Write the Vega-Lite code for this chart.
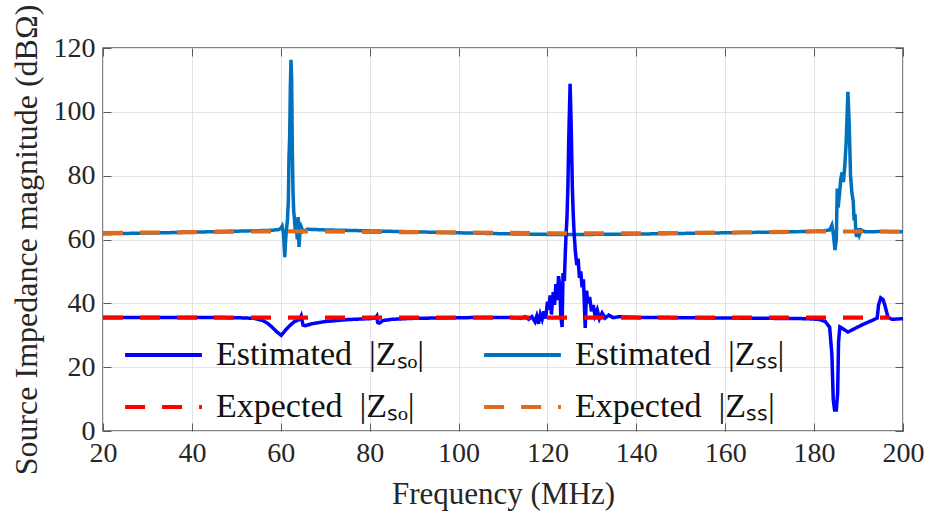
{
  "$schema": "https://vega.github.io/schema/vega-lite/v6.json",
  "width": 800,
  "height": 383,
  "autosize": {"type": "none"},
  "padding": {"left": 103, "top": 48, "right": 27, "bottom": 85},
  "background": "white",
  "config": {
    "view": {"stroke": "#5a5a5a", "strokeWidth": 1.5},
    "font": "Liberation Serif",
    "axis": {
      "domain": false,
      "gridColor": "#e3e3e3",
      "gridWidth": 1,
      "tickColor": "#5a5a5a",
      "tickSize": -8,
      "tickWidth": 1,
      "labelFont": "Liberation Serif",
      "labelFontSize": 28,
      "labelColor": "#262626",
      "titleFont": "Liberation Serif",
      "titleFontSize": 31,
      "titleFontWeight": "normal",
      "titleColor": "#262626"
    },
    "legend": {
      "labelFont": "Liberation Serif",
      "labelFontSize": 34,
      "labelColor": "#111111",
      "labelLimit": 500
    }
  },
  "datasets": {
    "est": [
      {"f": 20, "v": 61.8, "s": "Estimated\u00a0\u00a0|Zₛₛ|"},
      {"f": 30, "v": 62.0, "s": "Estimated\u00a0\u00a0|Zₛₛ|"},
      {"f": 40, "v": 62.3, "s": "Estimated\u00a0\u00a0|Zₛₛ|"},
      {"f": 50, "v": 62.6, "s": "Estimated\u00a0\u00a0|Zₛₛ|"},
      {"f": 56, "v": 62.8, "s": "Estimated\u00a0\u00a0|Zₛₛ|"},
      {"f": 58, "v": 62.9, "s": "Estimated\u00a0\u00a0|Zₛₛ|"},
      {"f": 59.5, "v": 63.1, "s": "Estimated\u00a0\u00a0|Zₛₛ|"},
      {"f": 60.0, "v": 63.5, "s": "Estimated\u00a0\u00a0|Zₛₛ|"},
      {"f": 60.3, "v": 64.2, "s": "Estimated\u00a0\u00a0|Zₛₛ|"},
      {"f": 60.6, "v": 62.0, "s": "Estimated\u00a0\u00a0|Zₛₛ|"},
      {"f": 60.9, "v": 54.5, "s": "Estimated\u00a0\u00a0|Zₛₛ|"},
      {"f": 61.1, "v": 60.0, "s": "Estimated\u00a0\u00a0|Zₛₛ|"},
      {"f": 61.3, "v": 63.5, "s": "Estimated\u00a0\u00a0|Zₛₛ|"},
      {"f": 61.5, "v": 66.0, "s": "Estimated\u00a0\u00a0|Zₛₛ|"},
      {"f": 61.7, "v": 72.0, "s": "Estimated\u00a0\u00a0|Zₛₛ|"},
      {"f": 61.85, "v": 86.0, "s": "Estimated\u00a0\u00a0|Zₛₛ|"},
      {"f": 62.0, "v": 92.0, "s": "Estimated\u00a0\u00a0|Zₛₛ|"},
      {"f": 62.15, "v": 108.0, "s": "Estimated\u00a0\u00a0|Zₛₛ|"},
      {"f": 62.3, "v": 116.3, "s": "Estimated\u00a0\u00a0|Zₛₛ|"},
      {"f": 62.45, "v": 110.0, "s": "Estimated\u00a0\u00a0|Zₛₛ|"},
      {"f": 62.6, "v": 88.0, "s": "Estimated\u00a0\u00a0|Zₛₛ|"},
      {"f": 62.75, "v": 75.0, "s": "Estimated\u00a0\u00a0|Zₛₛ|"},
      {"f": 62.9, "v": 69.0, "s": "Estimated\u00a0\u00a0|Zₛₛ|"},
      {"f": 63.1, "v": 66.0, "s": "Estimated\u00a0\u00a0|Zₛₛ|"},
      {"f": 63.3, "v": 62.0, "s": "Estimated\u00a0\u00a0|Zₛₛ|"},
      {"f": 63.5, "v": 65.0, "s": "Estimated\u00a0\u00a0|Zₛₛ|"},
      {"f": 63.7, "v": 60.0, "s": "Estimated\u00a0\u00a0|Zₛₛ|"},
      {"f": 63.9, "v": 67.0, "s": "Estimated\u00a0\u00a0|Zₛₛ|"},
      {"f": 64.1, "v": 57.7, "s": "Estimated\u00a0\u00a0|Zₛₛ|"},
      {"f": 64.3, "v": 62.0, "s": "Estimated\u00a0\u00a0|Zₛₛ|"},
      {"f": 64.6, "v": 64.0, "s": "Estimated\u00a0\u00a0|Zₛₛ|"},
      {"f": 65.0, "v": 62.5, "s": "Estimated\u00a0\u00a0|Zₛₛ|"},
      {"f": 66, "v": 63.2, "s": "Estimated\u00a0\u00a0|Zₛₛ|"},
      {"f": 70, "v": 63.0, "s": "Estimated\u00a0\u00a0|Zₛₛ|"},
      {"f": 80, "v": 62.7, "s": "Estimated\u00a0\u00a0|Zₛₛ|"},
      {"f": 90, "v": 62.4, "s": "Estimated\u00a0\u00a0|Zₛₛ|"},
      {"f": 100, "v": 62.1, "s": "Estimated\u00a0\u00a0|Zₛₛ|"},
      {"f": 110, "v": 61.8, "s": "Estimated\u00a0\u00a0|Zₛₛ|"},
      {"f": 120, "v": 61.6, "s": "Estimated\u00a0\u00a0|Zₛₛ|"},
      {"f": 130, "v": 61.6, "s": "Estimated\u00a0\u00a0|Zₛₛ|"},
      {"f": 140, "v": 61.7, "s": "Estimated\u00a0\u00a0|Zₛₛ|"},
      {"f": 150, "v": 61.9, "s": "Estimated\u00a0\u00a0|Zₛₛ|"},
      {"f": 160, "v": 62.1, "s": "Estimated\u00a0\u00a0|Zₛₛ|"},
      {"f": 170, "v": 62.3, "s": "Estimated\u00a0\u00a0|Zₛₛ|"},
      {"f": 178, "v": 62.5, "s": "Estimated\u00a0\u00a0|Zₛₛ|"},
      {"f": 182, "v": 62.7, "s": "Estimated\u00a0\u00a0|Zₛₛ|"},
      {"f": 183.5, "v": 63.0, "s": "Estimated\u00a0\u00a0|Zₛₛ|"},
      {"f": 184.0, "v": 64.5, "s": "Estimated\u00a0\u00a0|Zₛₛ|"},
      {"f": 184.3, "v": 62.0, "s": "Estimated\u00a0\u00a0|Zₛₛ|"},
      {"f": 184.7, "v": 56.7, "s": "Estimated\u00a0\u00a0|Zₛₛ|"},
      {"f": 185.0, "v": 60.0, "s": "Estimated\u00a0\u00a0|Zₛₛ|"},
      {"f": 185.2, "v": 76.0, "s": "Estimated\u00a0\u00a0|Zₛₛ|"},
      {"f": 185.4, "v": 70.0, "s": "Estimated\u00a0\u00a0|Zₛₛ|"},
      {"f": 185.7, "v": 74.0, "s": "Estimated\u00a0\u00a0|Zₛₛ|"},
      {"f": 186.0, "v": 79.0, "s": "Estimated\u00a0\u00a0|Zₛₛ|"},
      {"f": 186.3, "v": 81.0, "s": "Estimated\u00a0\u00a0|Zₛₛ|"},
      {"f": 186.6, "v": 78.0, "s": "Estimated\u00a0\u00a0|Zₛₛ|"},
      {"f": 186.9, "v": 83.0, "s": "Estimated\u00a0\u00a0|Zₛₛ|"},
      {"f": 187.2, "v": 90.0, "s": "Estimated\u00a0\u00a0|Zₛₛ|"},
      {"f": 187.6, "v": 106.3, "s": "Estimated\u00a0\u00a0|Zₛₛ|"},
      {"f": 187.9, "v": 96.0, "s": "Estimated\u00a0\u00a0|Zₛₛ|"},
      {"f": 188.2, "v": 80.0, "s": "Estimated\u00a0\u00a0|Zₛₛ|"},
      {"f": 188.5, "v": 74.6, "s": "Estimated\u00a0\u00a0|Zₛₛ|"},
      {"f": 188.8, "v": 72.0, "s": "Estimated\u00a0\u00a0|Zₛₛ|"},
      {"f": 189.0, "v": 66.0, "s": "Estimated\u00a0\u00a0|Zₛₛ|"},
      {"f": 189.2, "v": 68.0, "s": "Estimated\u00a0\u00a0|Zₛₛ|"},
      {"f": 189.4, "v": 62.0, "s": "Estimated\u00a0\u00a0|Zₛₛ|"},
      {"f": 189.6, "v": 60.8, "s": "Estimated\u00a0\u00a0|Zₛₛ|"},
      {"f": 189.9, "v": 63.5, "s": "Estimated\u00a0\u00a0|Zₛₛ|"},
      {"f": 190.2, "v": 61.5, "s": "Estimated\u00a0\u00a0|Zₛₛ|"},
      {"f": 190.6, "v": 63.0, "s": "Estimated\u00a0\u00a0|Zₛₛ|"},
      {"f": 191.5, "v": 62.4, "s": "Estimated\u00a0\u00a0|Zₛₛ|"},
      {"f": 195, "v": 62.5, "s": "Estimated\u00a0\u00a0|Zₛₛ|"},
      {"f": 200, "v": 62.4, "s": "Estimated\u00a0\u00a0|Zₛₛ|"},

      {"f": 20, "v": 35.6, "s": "Estimated\u00a0\u00a0|Zₛₒ|"},
      {"f": 40, "v": 35.6, "s": "Estimated\u00a0\u00a0|Zₛₒ|"},
      {"f": 50, "v": 35.5, "s": "Estimated\u00a0\u00a0|Zₛₒ|"},
      {"f": 54, "v": 35.3, "s": "Estimated\u00a0\u00a0|Zₛₒ|"},
      {"f": 56, "v": 34.6, "s": "Estimated\u00a0\u00a0|Zₛₒ|"},
      {"f": 57, "v": 33.8, "s": "Estimated\u00a0\u00a0|Zₛₒ|"},
      {"f": 58, "v": 32.6, "s": "Estimated\u00a0\u00a0|Zₛₒ|"},
      {"f": 59, "v": 31.2, "s": "Estimated\u00a0\u00a0|Zₛₒ|"},
      {"f": 60.1, "v": 30.0, "s": "Estimated\u00a0\u00a0|Zₛₒ|"},
      {"f": 61, "v": 31.5, "s": "Estimated\u00a0\u00a0|Zₛₒ|"},
      {"f": 62, "v": 33.0, "s": "Estimated\u00a0\u00a0|Zₛₒ|"},
      {"f": 63, "v": 34.2, "s": "Estimated\u00a0\u00a0|Zₛₒ|"},
      {"f": 64.3, "v": 35.0, "s": "Estimated\u00a0\u00a0|Zₛₒ|"},
      {"f": 64.6, "v": 36.0, "s": "Estimated\u00a0\u00a0|Zₛₒ|"},
      {"f": 65.0, "v": 33.2, "s": "Estimated\u00a0\u00a0|Zₛₒ|"},
      {"f": 65.5, "v": 33.0, "s": "Estimated\u00a0\u00a0|Zₛₒ|"},
      {"f": 67, "v": 33.6, "s": "Estimated\u00a0\u00a0|Zₛₒ|"},
      {"f": 70, "v": 34.3, "s": "Estimated\u00a0\u00a0|Zₛₒ|"},
      {"f": 75, "v": 34.9, "s": "Estimated\u00a0\u00a0|Zₛₒ|"},
      {"f": 80, "v": 35.2, "s": "Estimated\u00a0\u00a0|Zₛₒ|"},
      {"f": 81.3, "v": 35.4, "s": "Estimated\u00a0\u00a0|Zₛₒ|"},
      {"f": 81.6, "v": 36.0, "s": "Estimated\u00a0\u00a0|Zₛₒ|"},
      {"f": 81.8, "v": 34.0, "s": "Estimated\u00a0\u00a0|Zₛₒ|"},
      {"f": 82.2, "v": 33.8, "s": "Estimated\u00a0\u00a0|Zₛₒ|"},
      {"f": 83, "v": 34.6, "s": "Estimated\u00a0\u00a0|Zₛₒ|"},
      {"f": 85, "v": 35.0, "s": "Estimated\u00a0\u00a0|Zₛₒ|"},
      {"f": 90, "v": 35.3, "s": "Estimated\u00a0\u00a0|Zₛₒ|"},
      {"f": 100, "v": 35.5, "s": "Estimated\u00a0\u00a0|Zₛₒ|"},
      {"f": 110, "v": 35.6, "s": "Estimated\u00a0\u00a0|Zₛₒ|"},
      {"f": 113, "v": 35.5, "s": "Estimated\u00a0\u00a0|Zₛₒ|"},
      {"f": 114, "v": 35.3, "s": "Estimated\u00a0\u00a0|Zₛₒ|"},
      {"f": 115, "v": 35.8, "s": "Estimated\u00a0\u00a0|Zₛₒ|"},
      {"f": 115.8, "v": 35.0, "s": "Estimated\u00a0\u00a0|Zₛₒ|"},
      {"f": 116.5, "v": 35.8, "s": "Estimated\u00a0\u00a0|Zₛₒ|"},
      {"f": 117.2, "v": 34.2, "s": "Estimated\u00a0\u00a0|Zₛₒ|"},
      {"f": 117.6, "v": 36.0, "s": "Estimated\u00a0\u00a0|Zₛₒ|"},
      {"f": 118, "v": 33.6, "s": "Estimated\u00a0\u00a0|Zₛₒ|"},
      {"f": 118.4, "v": 36.6, "s": "Estimated\u00a0\u00a0|Zₛₒ|"},
      {"f": 118.8, "v": 35.0, "s": "Estimated\u00a0\u00a0|Zₛₒ|"},
      {"f": 119.2, "v": 37.5, "s": "Estimated\u00a0\u00a0|Zₛₒ|"},
      {"f": 119.6, "v": 35.2, "s": "Estimated\u00a0\u00a0|Zₛₒ|"},
      {"f": 120.0, "v": 40.5, "s": "Estimated\u00a0\u00a0|Zₛₒ|"},
      {"f": 120.3, "v": 38.0, "s": "Estimated\u00a0\u00a0|Zₛₒ|"},
      {"f": 120.6, "v": 42.5, "s": "Estimated\u00a0\u00a0|Zₛₒ|"},
      {"f": 120.9, "v": 36.5, "s": "Estimated\u00a0\u00a0|Zₛₒ|"},
      {"f": 121.3, "v": 43.5, "s": "Estimated\u00a0\u00a0|Zₛₒ|"},
      {"f": 121.6, "v": 39.5, "s": "Estimated\u00a0\u00a0|Zₛₒ|"},
      {"f": 121.9, "v": 46.0, "s": "Estimated\u00a0\u00a0|Zₛₒ|"},
      {"f": 122.2, "v": 41.0, "s": "Estimated\u00a0\u00a0|Zₛₒ|"},
      {"f": 122.5, "v": 48.5, "s": "Estimated\u00a0\u00a0|Zₛₒ|"},
      {"f": 122.8, "v": 45.0, "s": "Estimated\u00a0\u00a0|Zₛₒ|"},
      {"f": 123.0, "v": 36.0, "s": "Estimated\u00a0\u00a0|Zₛₒ|"},
      {"f": 123.3, "v": 32.6, "s": "Estimated\u00a0\u00a0|Zₛₒ|"},
      {"f": 123.5, "v": 49.5, "s": "Estimated\u00a0\u00a0|Zₛₒ|"},
      {"f": 123.8, "v": 47.0, "s": "Estimated\u00a0\u00a0|Zₛₒ|"},
      {"f": 124.0, "v": 55.0, "s": "Estimated\u00a0\u00a0|Zₛₒ|"},
      {"f": 124.2, "v": 62.0, "s": "Estimated\u00a0\u00a0|Zₛₒ|"},
      {"f": 124.4, "v": 67.0, "s": "Estimated\u00a0\u00a0|Zₛₒ|"},
      {"f": 124.6, "v": 76.5, "s": "Estimated\u00a0\u00a0|Zₛₒ|"},
      {"f": 124.8, "v": 92.0, "s": "Estimated\u00a0\u00a0|Zₛₒ|"},
      {"f": 125.1, "v": 108.8, "s": "Estimated\u00a0\u00a0|Zₛₒ|"},
      {"f": 125.35, "v": 95.0, "s": "Estimated\u00a0\u00a0|Zₛₒ|"},
      {"f": 125.6, "v": 76.5, "s": "Estimated\u00a0\u00a0|Zₛₒ|"},
      {"f": 125.8, "v": 68.0, "s": "Estimated\u00a0\u00a0|Zₛₒ|"},
      {"f": 126.0, "v": 62.0, "s": "Estimated\u00a0\u00a0|Zₛₒ|"},
      {"f": 126.3, "v": 56.0, "s": "Estimated\u00a0\u00a0|Zₛₒ|"},
      {"f": 126.6, "v": 52.0, "s": "Estimated\u00a0\u00a0|Zₛₒ|"},
      {"f": 126.9, "v": 54.0, "s": "Estimated\u00a0\u00a0|Zₛₒ|"},
      {"f": 127.2, "v": 48.0, "s": "Estimated\u00a0\u00a0|Zₛₒ|"},
      {"f": 127.5, "v": 50.0, "s": "Estimated\u00a0\u00a0|Zₛₒ|"},
      {"f": 127.8, "v": 45.0, "s": "Estimated\u00a0\u00a0|Zₛₒ|"},
      {"f": 128.1, "v": 47.5, "s": "Estimated\u00a0\u00a0|Zₛₒ|"},
      {"f": 128.5, "v": 32.3, "s": "Estimated\u00a0\u00a0|Zₛₒ|"},
      {"f": 128.8, "v": 44.0, "s": "Estimated\u00a0\u00a0|Zₛₒ|"},
      {"f": 129.1, "v": 40.0, "s": "Estimated\u00a0\u00a0|Zₛₒ|"},
      {"f": 129.5, "v": 42.0, "s": "Estimated\u00a0\u00a0|Zₛₒ|"},
      {"f": 129.9, "v": 37.5, "s": "Estimated\u00a0\u00a0|Zₛₒ|"},
      {"f": 130.3, "v": 39.5, "s": "Estimated\u00a0\u00a0|Zₛₒ|"},
      {"f": 130.7, "v": 36.2, "s": "Estimated\u00a0\u00a0|Zₛₒ|"},
      {"f": 131.2, "v": 38.0, "s": "Estimated\u00a0\u00a0|Zₛₒ|"},
      {"f": 131.7, "v": 35.2, "s": "Estimated\u00a0\u00a0|Zₛₒ|"},
      {"f": 132.3, "v": 37.0, "s": "Estimated\u00a0\u00a0|Zₛₒ|"},
      {"f": 133.0, "v": 35.4, "s": "Estimated\u00a0\u00a0|Zₛₒ|"},
      {"f": 133.8, "v": 36.3, "s": "Estimated\u00a0\u00a0|Zₛₒ|"},
      {"f": 134.8, "v": 35.5, "s": "Estimated\u00a0\u00a0|Zₛₒ|"},
      {"f": 136, "v": 35.8, "s": "Estimated\u00a0\u00a0|Zₛₒ|"},
      {"f": 140, "v": 35.6, "s": "Estimated\u00a0\u00a0|Zₛₒ|"},
      {"f": 150, "v": 35.5, "s": "Estimated\u00a0\u00a0|Zₛₒ|"},
      {"f": 160, "v": 35.4, "s": "Estimated\u00a0\u00a0|Zₛₒ|"},
      {"f": 170, "v": 35.3, "s": "Estimated\u00a0\u00a0|Zₛₒ|"},
      {"f": 178, "v": 35.2, "s": "Estimated\u00a0\u00a0|Zₛₒ|"},
      {"f": 181, "v": 35.0, "s": "Estimated\u00a0\u00a0|Zₛₒ|"},
      {"f": 182.5, "v": 34.3, "s": "Estimated\u00a0\u00a0|Zₛₒ|"},
      {"f": 183.5, "v": 32.5, "s": "Estimated\u00a0\u00a0|Zₛₒ|"},
      {"f": 184.0, "v": 24.0, "s": "Estimated\u00a0\u00a0|Zₛₒ|"},
      {"f": 184.3, "v": 10.0, "s": "Estimated\u00a0\u00a0|Zₛₒ|"},
      {"f": 184.6, "v": 6.6, "s": "Estimated\u00a0\u00a0|Zₛₒ|"},
      {"f": 185.0, "v": 6.6, "s": "Estimated\u00a0\u00a0|Zₛₒ|"},
      {"f": 185.3, "v": 12.0, "s": "Estimated\u00a0\u00a0|Zₛₒ|"},
      {"f": 185.5, "v": 28.0, "s": "Estimated\u00a0\u00a0|Zₛₒ|"},
      {"f": 185.8, "v": 32.6, "s": "Estimated\u00a0\u00a0|Zₛₒ|"},
      {"f": 186.3, "v": 32.2, "s": "Estimated\u00a0\u00a0|Zₛₒ|"},
      {"f": 187.6, "v": 31.0, "s": "Estimated\u00a0\u00a0|Zₛₒ|"},
      {"f": 189, "v": 32.0, "s": "Estimated\u00a0\u00a0|Zₛₒ|"},
      {"f": 191, "v": 33.4, "s": "Estimated\u00a0\u00a0|Zₛₒ|"},
      {"f": 193, "v": 34.6, "s": "Estimated\u00a0\u00a0|Zₛₒ|"},
      {"f": 194.2, "v": 35.4, "s": "Estimated\u00a0\u00a0|Zₛₒ|"},
      {"f": 194.5, "v": 39.5, "s": "Estimated\u00a0\u00a0|Zₛₒ|"},
      {"f": 195, "v": 41.7, "s": "Estimated\u00a0\u00a0|Zₛₒ|"},
      {"f": 195.5, "v": 41.2, "s": "Estimated\u00a0\u00a0|Zₛₒ|"},
      {"f": 196, "v": 39.0, "s": "Estimated\u00a0\u00a0|Zₛₒ|"},
      {"f": 196.6, "v": 35.7, "s": "Estimated\u00a0\u00a0|Zₛₒ|"},
      {"f": 197.5, "v": 35.0, "s": "Estimated\u00a0\u00a0|Zₛₒ|"},
      {"f": 200, "v": 35.2, "s": "Estimated\u00a0\u00a0|Zₛₒ|"}
    ],
    "exp": [
      {"f": 20, "v": 35.5, "s": "\u2005Expected\u00a0\u00a0|Zₛₒ|"},
      {"f": 197, "v": 35.5, "s": "\u2005Expected\u00a0\u00a0|Zₛₒ|"},
      {"f": 20, "v": 62.0, "s": "\u2005Expected\u00a0\u00a0|Zₛₛ|"},
      {"f": 60, "v": 62.6, "s": "\u2005Expected\u00a0\u00a0|Zₛₛ|"},
      {"f": 100, "v": 62.2, "s": "\u2005Expected\u00a0\u00a0|Zₛₛ|"},
      {"f": 125, "v": 61.9, "s": "\u2005Expected\u00a0\u00a0|Zₛₛ|"},
      {"f": 150, "v": 62.0, "s": "\u2005Expected\u00a0\u00a0|Zₛₛ|"},
      {"f": 180, "v": 62.5, "s": "\u2005Expected\u00a0\u00a0|Zₛₛ|"},
      {"f": 200, "v": 62.5, "s": "\u2005Expected\u00a0\u00a0|Zₛₛ|"}
    ]
  },
  "layer": [
    {
      "data": {"name": "est"},
      "mark": {"type": "line", "strokeWidth": 3.5, "clip": true},
      "encoding": {
        "x": {
          "field": "f", "type": "quantitative",
          "scale": {"domain": [20, 200], "nice": false, "zero": false},
          "axis": {"orient": "bottom", "values": [20, 40, 60, 80, 100, 120, 140, 160, 180, 200], "title": "Frequency (MHz)", "labelPadding": 16, "titlePadding": 12, "labelFlush": false}
        },
        "y": {
          "field": "v", "type": "quantitative",
          "scale": {"domain": [0, 120], "nice": false, "zero": false},
          "axis": {"orient": "left", "values": [0, 20, 40, 60, 80, 100, 120], "title": "Source Impedance magnitude (dBΩ)", "titleFontSize": 32, "labelPadding": 16, "titlePadding": 10}
        },
        "color": {
          "field": "s", "type": "nominal",
          "scale": {"domain": ["Estimated\u00a0\u00a0|Zₛₒ|", "Estimated\u00a0\u00a0|Zₛₛ|", "\u2005Expected\u00a0\u00a0|Zₛₒ|", "\u2005Expected\u00a0\u00a0|Zₛₛ|"], "range": ["#0000FF", "#0072BD", "#FF0000", "#DD6A1E"]},
          "legend": {
            "orient": "none", "legendX": 20, "legendY": 281, "columns": 2, "direction": "horizontal", "title": null,
            "symbolType": "stroke", "symbolSize": 5900, "symbolStrokeWidth": 4,
            "labelOffset": 12, "columnPadding": 57, "rowPadding": 0, "clipHeight": 52
          }
        },
        "strokeDash": {
          "field": "s", "type": "nominal",
          "scale": {"domain": ["Estimated\u00a0\u00a0|Zₛₒ|", "Estimated\u00a0\u00a0|Zₛₛ|", "\u2005Expected\u00a0\u00a0|Zₛₒ|", "\u2005Expected\u00a0\u00a0|Zₛₛ|"], "range": [[1, 0], [1, 0], [20, 17], [20, 17]]}
        }
      }
    },
    {
      "data": {"name": "exp"},
      "mark": {"type": "line", "strokeWidth": 4.2, "clip": true},
      "encoding": {
        "x": {
          "field": "f", "type": "quantitative",
          "axis": {"orient": "top", "values": [20, 40, 60, 80, 100, 120, 140, 160, 180, 200], "labels": false, "title": null, "grid": false}
        },
        "y": {
          "field": "v", "type": "quantitative",
          "axis": {"orient": "right", "values": [0, 20, 40, 60, 80, 100, 120], "labels": false, "title": null, "grid": false}
        },
        "color": {"field": "s", "type": "nominal"},
        "strokeDash": {"field": "s", "type": "nominal"}
      }
    }
  ],
  "resolve": {"axis": {"x": "independent", "y": "independent"}}
}
